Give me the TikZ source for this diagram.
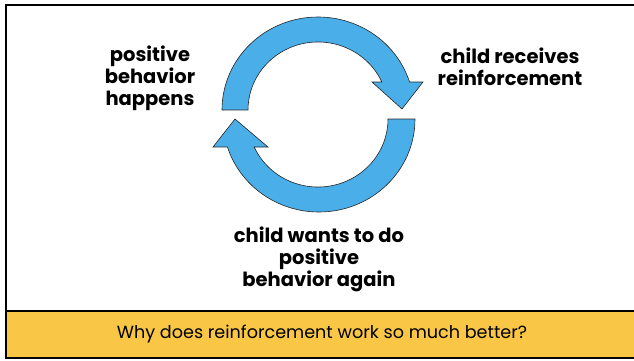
\documentclass[tikz,border=0pt]{standalone}
\usepackage{fontspec}
\setmainfont{Poppins}
\usepackage{tikz}
\usetikzlibrary{positioning}
\definecolor{arrowblue}{HTML}{4AAEE9}
\definecolor{bandyellow}{HTML}{F9C645}

\begin{document}
\begin{tikzpicture}[x=1pt, y=1pt,
		cyclearrow/.style={fill=arrowblue, draw=black!85, line width=0.6pt, line join=miter},
		steplabel/.style={font=\fontsize{19.5}{22}\selectfont\bfseries, align=center, inner sep=0pt},
		framebox/.style={draw=black, line width=2pt}
	]
	\useasboundingbox (0,0) rectangle (634,360);

	% frame and question band
	\fill[bandyellow] (6,2) rectangle (640,49);
	\draw[framebox] (640,355) -- (6,355) -- (6,2) -- (640,2);
	\draw[framebox] (6,49) -- (640,49);
	\node[font=\fontsize{17.6}{20}\selectfont, inner sep=0pt] (question) at (322,26) {Why does reinforcement work so much better?};

	% top arrow, left to right
	\draw[cyclearrow] (222,250) arc[start angle=180, end angle=17.5, x radius=96, y radius=93]
		-- (423,278) -- (402,251) -- (372,278) -- (381.8,278)
		arc[start angle=24.3, end angle=180, x radius=70, y radius=68] -- cycle;
	% bottom arrow, right to left
	\draw[cyclearrow] (415,241) arc[start angle=0, end angle=-162.5, x radius=96, y radius=93]
		-- (213,213) -- (235,241) -- (268,213) -- (254.2,213)
		arc[start angle=-155.7, end angle=0, x radius=70, y radius=68] -- cycle;

	\node[steplabel] (happens) at (150,282) {positive\\behavior\\happens};
	\node[steplabel] (receives) at (510,293) {child receives\\reinforcement};
	\node[steplabel] (again) at (319,101) {child wants to do\\positive\\behavior again};
\end{tikzpicture}
\end{document}
